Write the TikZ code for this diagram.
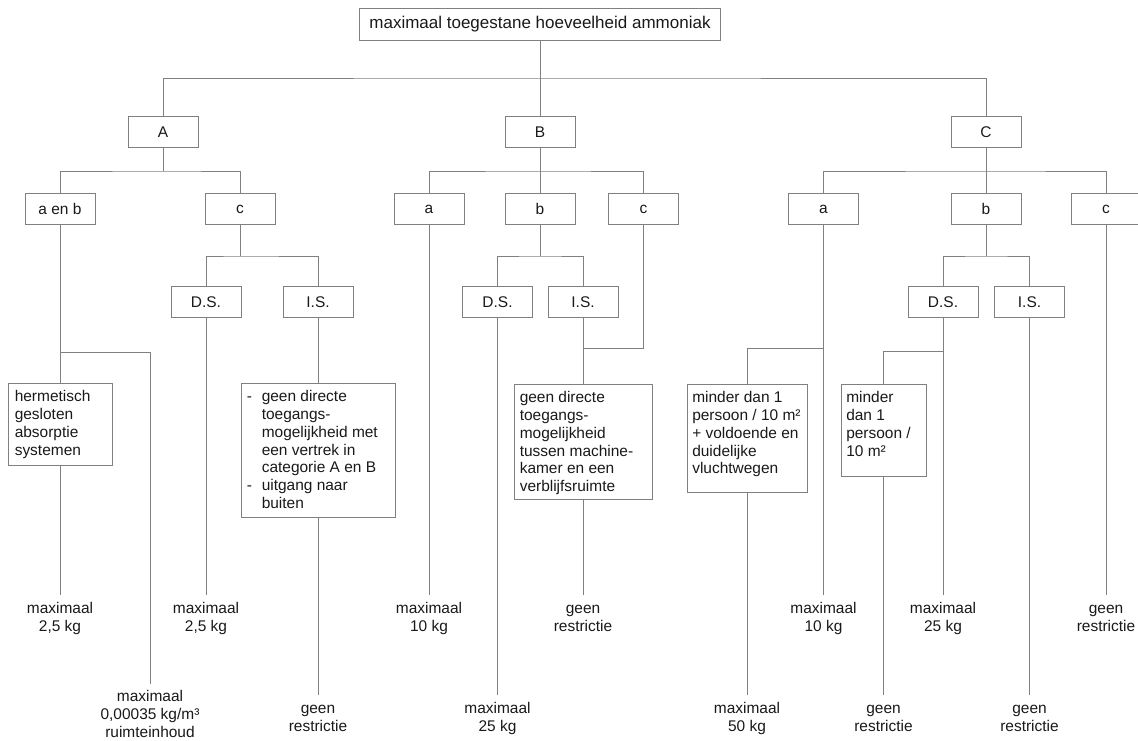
\documentclass[tikz,border=0pt]{standalone}
\usepackage{fontspec}
\setmainfont{Liberation Sans}
\usetikzlibrary{calc}
\definecolor{lg}{RGB}{128,128,128}
\definecolor{tx}{RGB}{25,25,25}
\newcommand\dfont{\fontsize{11.6pt}{13.35pt}\selectfont}
\newcommand\tfont{\fontsize{12.75pt}{14.6pt}\selectfont}
\begin{document}
\begin{tikzpicture}[x=0.75pt,y=-0.75pt,
  box/.style={draw=lg, line width=0.75pt, inner sep=0pt, text=tx, font=\dfont},
  lvl/.style={box, minimum width=52.5pt, minimum height=23.25pt},
  con/.style={draw=lg, line width=0.75pt},
  lbl/.style={anchor=north, align=center, inner xsep=0pt, inner ysep=4.5pt, text=tx, font=\dfont},
  btxt/.style={anchor=north west, align=left, inner sep=0pt, text=tx, font=\dfont}]
\useasboundingbox (0,0) rectangle (1138,740);

% top and level 1
\node[box, minimum width=270.75pt, minimum height=24pt, font=\tfont] (top) at (540,24) {maximaal toegestane hoeveelheid ammoniak};
\node[lvl] (A) at (163,132) {A};
\node[lvl] (B) at (540,132) {B};
\node[lvl] (C) at (986,132) {C};

% level 2
\node[lvl] (Aab) at (60,209) {a en b};
\node[lvl] (Ac)  at (240,209) {c};
\node[lvl] (Ba)  at (429,209) {a};
\node[lvl] (Bb)  at (540,209) {b};
\node[lvl] (Bc)  at (643.5,209) {c};
\node[lvl] (Ca)  at (823.5,209) {a};
\node[lvl] (Cb)  at (986,209) {b};
\node[lvl] (Cc)  at (1106,209) {c};

% level 3
\node[lvl] (AcDS) at (206,302) {D.S.};
\node[lvl] (AcIS) at (318,302) {I.S.};
\node[lvl] (BbDS) at (497.5,302) {D.S.};
\node[lvl] (BbIS) at (583,302) {I.S.};
\node[lvl] (CbDS) at (943,302) {D.S.};
\node[lvl] (CbIS) at (1029.5,302) {I.S.};

% condition boxes
\node[box, minimum width=78pt, minimum height=61.5pt] (hb) at (60,424) {};
\node[btxt] (hbt) at ([shift={(7,6.5)}]hb.north west) {\strut hermetisch\\gesloten\\absorptie\\systemen};

\node[box, minimum width=115.5pt, minimum height=100.5pt] (isA) at (318,450) {};
\node[btxt] (isAt) at ([shift={(6,6.5)}]isA.north west) {\strut\makebox[11.25pt][l]{-}geen directe\\\hspace*{11.25pt}toegangs-\\\hspace*{11.25pt}mogelijkheid met\\\hspace*{11.25pt}een vertrek in\\\hspace*{11.25pt}categorie A en B\\\makebox[11.25pt][l]{-}uitgang naar\\\hspace*{11.25pt}buiten};

\node[box, minimum width=103.5pt, minimum height=86.25pt] (isB) at (583,441.5) {};
\node[btxt] (isBt) at ([shift={(6,6.5)}]isB.north west) {\strut geen directe\\toegangs-\\mogelijkheid\\tussen machine-\\kamer en een\\verblijfsruimte};

\node[box, minimum width=90pt, minimum height=81pt] (ca) at (747,438) {};
\node[btxt] (cat) at ([shift={(5.5,6.5)}]ca.north west) {\strut minder dan 1\\persoon / 10 m²\\+ voldoende en\\duidelijke\\vluchtwegen};

\node[box, minimum width=63.75pt, minimum height=69pt] (cb) at (883.5,430) {};
\node[btxt] (cbt) at ([shift={(5.5,6.5)}]cb.north west) {\strut minder\\dan 1\\persoon /\\10 m²};

% result labels
\node[lbl] (r1) at (60,595) {\strut maximaal\\2,5 kg};
\node[lbl, inner ysep=3.75pt] (r2) at (150,684) {\strut maximaal\\0,00035 kg/m³\\ruimteinhoud};
\node[lbl] (r3) at (206,595) {\strut maximaal\\2,5 kg};
\node[lbl] (r4) at (318,695) {\strut geen\\restrictie};
\node[lbl] (r5) at (429,595) {\strut maximaal\\10 kg};
\node[lbl] (r6) at (497.5,695) {\strut maximaal\\25 kg};
\node[lbl] (r7) at (583,595) {\strut geen\\restrictie};
\node[lbl] (r8) at (747,695) {\strut maximaal\\50 kg};
\node[lbl] (r9) at (823.5,595) {\strut maximaal\\10 kg};
\node[lbl] (r10) at (883.5,695) {\strut geen\\restrictie};
\node[lbl] (r11) at (943,595) {\strut maximaal\\25 kg};
\node[lbl] (r12) at (1029.5,695) {\strut geen\\restrictie};
\node[lbl] (r13) at (1106,595) {\strut geen\\restrictie};

% junction coordinates
\coordinate (bar0) at (540,78);
\coordinate (barA) at (163,171);
\coordinate (barB) at (540,171);
\coordinate (barC) at (986,171);
\coordinate (barAc) at (240,256);
\coordinate (barBb) at (540,256);
\coordinate (barCb) at (986,256);
\coordinate (jAab) at (60,352);
\coordinate (jBc) at (583,348);
\coordinate (jCa) at (823.5,348);
\coordinate (jCbDS) at (943,351);

% connectors
\draw[con] (top.south) -- (B.north);
\draw[con] (A.north) |- (bar0) -| (C.north);

\draw[con] (A.south) -- (barA);
\draw[con] (Aab.north) |- (barA) -| (Ac.north);
\draw[con] (B.south) -- (Bb.north);
\draw[con] (Ba.north) |- (barB) -| (Bc.north);
\draw[con] (C.south) -- (Cb.north);
\draw[con] (Ca.north) |- (barC) -| (Cc.north);

\draw[con] (Ac.south) -- (barAc);
\draw[con] (AcDS.north) |- (barAc) -| (AcIS.north);
\draw[con] (Bb.south) -- (barBb);
\draw[con] (BbDS.north) |- (barBb) -| (BbIS.north);
\draw[con] (Cb.south) -- (barCb);
\draw[con] (CbDS.north) |- (barCb) -| (CbIS.north);

\draw[con] (Aab.south) -- (hb.north);
\draw[con] (hb.south) -- (r1.north);
\draw[con] (jAab) -| (r2.north);
\draw[con] (AcDS.south) -- (r3.north);
\draw[con] (AcIS.south) -- (isA.north);
\draw[con] (isA.south) -- (r4.north);
\draw[con] (Ba.south) -- (r5.north);
\draw[con] (BbDS.south) -- (r6.north);
\draw[con] (BbIS.south) -- (isB.north);
\draw[con] (isB.south) -- (r7.north);
\draw[con] (Bc.south) |- (jBc);
\draw[con] (Ca.south) -- (r9.north);
\draw[con] (jCa) -| (ca.north);
\draw[con] (ca.south) -- (r8.north);
\draw[con] (CbDS.south) -- (r11.north);
\draw[con] (jCbDS) -| (cb.north);
\draw[con] (cb.south) -- (r10.north);
\draw[con] (CbIS.south) -- (r12.north);
\draw[con] (Cc.south) -- (r13.north);
\end{tikzpicture}
\end{document}
